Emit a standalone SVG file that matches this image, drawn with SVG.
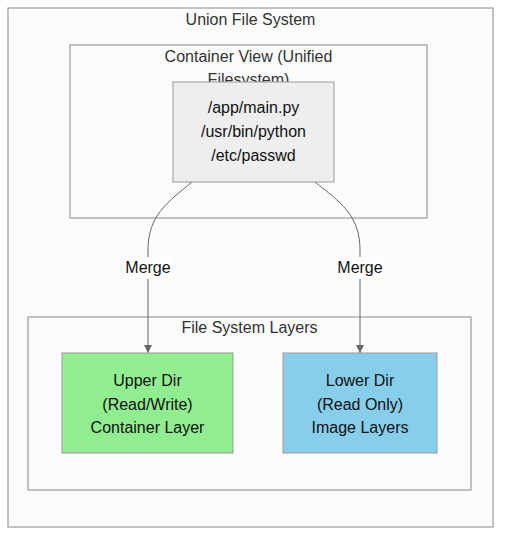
<svg xmlns="http://www.w3.org/2000/svg" width="509" height="544" viewBox="0 0 509 544">
<style>
.cluster{fill:#fbfbfb;stroke:#888;stroke-width:1}
.ctitle{font-family:"Liberation Sans",Arial,sans-serif;font-size:16px;fill:#333;text-anchor:middle}
.ntext{font-family:"Liberation Sans",Arial,sans-serif;font-size:16px;fill:#111;text-anchor:middle}
.edge{fill:none;stroke:#666;stroke-width:1}
.lbl{fill:#fff}
</style>
<defs>
<marker id="arr" viewBox="0 0 10 10" refX="10" refY="5" markerWidth="8" markerHeight="8" markerUnits="userSpaceOnUse" orient="auto">
<path d="M0,0 L10,5 L0,10 z" fill="#666"/>
</marker>
</defs>
<rect x="0" y="0" width="509" height="544" fill="#ffffff"/>
<g id="union">
<rect class="cluster" x="8" y="8" width="485" height="519"/>
<text class="ctitle" x="250.5" y="25">Union File System</text>
</g>
<g id="containerView">
<rect class="cluster" x="70" y="45" width="357" height="173"/>
<text class="ctitle" x="248.5" y="62">Container View (Unified</text>
<text class="ctitle" x="248.5" y="85">Filesystem)</text>
</g>
<g id="layers">
<rect class="cluster" x="28" y="317" width="443" height="173"/>
<text class="ctitle" x="249.5" y="333">File System Layers</text>
</g>
<g id="edges">
<path class="edge" d="M192,182 C168,202 148,215 148,250 L148,353" marker-end="url(#arr)"/>
<path class="edge" d="M315,182 C340,202 360,215 360,250 L360,353" marker-end="url(#arr)"/>
<rect class="lbl" x="124" y="257" width="48" height="22"/>
<text class="ntext" x="148" y="273">Merge</text>
<rect class="lbl" x="336" y="257" width="48" height="22"/>
<text class="ntext" x="360" y="273">Merge</text>
</g>
<g id="unified">
<rect x="173" y="82" width="161" height="100" fill="#eeeeee" stroke="#999" stroke-width="1"/>
<text class="ntext" x="253.5" y="113">/app/main.py</text>
<text class="ntext" x="253.5" y="137">/usr/bin/python</text>
<text class="ntext" x="253.5" y="161">/etc/passwd</text>
</g>
<g id="upper">
<rect x="62" y="353" width="171" height="100" fill="#90ee90" stroke="#999" stroke-width="1"/>
<text class="ntext" x="147.5" y="386">Upper Dir</text>
<text class="ntext" x="147.5" y="410">(Read/Write)</text>
<text class="ntext" x="147.5" y="433">Container Layer</text>
</g>
<g id="lower">
<rect x="283" y="353" width="154" height="100" fill="#87ceeb" stroke="#999" stroke-width="1"/>
<text class="ntext" x="360" y="386">Lower Dir</text>
<text class="ntext" x="360" y="410">(Read Only)</text>
<text class="ntext" x="360" y="433">Image Layers</text>
</g>
</svg>
